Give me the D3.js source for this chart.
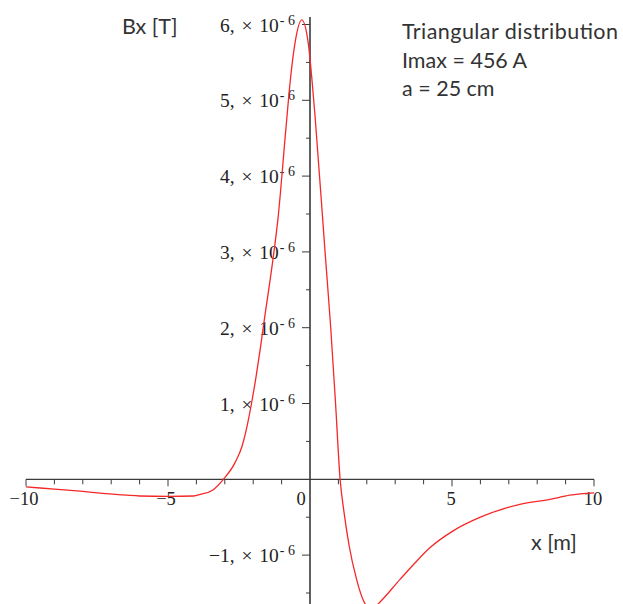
<!DOCTYPE html>
<html>
<head>
<meta charset="utf-8">
<script src="https://cdn.jsdelivr.net/npm/d3@7"></script>
<style>
  html, body { margin: 0; padding: 0; background: #fff; }
  svg { display: block; }
</style>
</head>
<body>
<div id="chart"></div>
<script>
// Bx field along x for a triangular current distribution
const xValues = [-10, -9, -8, -7.3, -6.45, -6, -5, -4.1, -3.87, -3.42, -3.05, -2.64, -2.39, -2.24, -2.06,
  -1.9, -1.74, -1.64, -1.27, -1.13, -0.85, -0.68, -0.53, -0.29, -0.06, 0.06, 0.18,
  0.53, 0.73, 0.9, 1.06, 1.2, 1.38, 1.64, 1.87, 2.17, 2.41, 3.17, 3.63, 4.23, 5.04, 6.0, 7.39, 8.45, 9.15, 10];
// Bx in units of 1e-6 T
const bxValues = [-0.10, -0.13, -0.16, -0.185, -0.21, -0.22, -0.225, -0.22, -0.20, -0.14, 0, 0.22, 0.44, 0.66, 1.0,
  1.35, 1.75, 2.02, 3.0, 3.43, 4.62, 5.31, 5.75, 6.06, 5.75, 5.31, 4.78,
  3.0, 2.0, 1.0, 0, -0.44, -0.88, -1.32, -1.59, -1.72, -1.64, -1.32, -1.13, -0.9, -0.68, -0.5, -0.33, -0.265, -0.21, -0.18];

const xMajorTicks = [-10, -5, 0, 5, 10];
const xMinorTicks = [-9, -8, -7, -6, -4, -3, -2, -1, 1, 2, 3, 4, 6, 7, 8, 9];
const yMajorTicks = [-1, 1, 2, 3, 4, 5, 6];
const yMinorTicks = [-1.5, -0.5, 0.5, 1.5, 2.5, 3.5, 4.5, 5.5];
const annotationLines = ["Triangular distribution", "Imax = 456 A", "a = 25 cm"];

const W = 623, H = 604;
const svg = d3.select("#chart").append("svg").attr("width", W).attr("height", H);

const x = d3.scaleLinear().domain([-10, 10]).range([26, 594]);
const y = d3.scaleLinear().domain([0, 6]).range([479.3, 24.5]);

const axisColor = "#3a3a3a";
const serif = "'Liberation Serif', 'Times New Roman', serif";
const sans = "Lato, 'Open Sans', sans-serif";

// x axis line and ticks
const gx = svg.append("g");
gx.append("line").attr("x1", x(-10)).attr("x2", x(10)).attr("y1", y(0)).attr("y2", y(0))
  .attr("stroke", axisColor).attr("stroke-width", 1.3);
gx.selectAll("line.minor").data(xMinorTicks).join("line").attr("class", "minor")
  .attr("x1", d => x(d)).attr("x2", d => x(d)).attr("y1", y(0)).attr("y2", y(0) + 5)
  .attr("stroke", axisColor).attr("stroke-width", 1);
gx.selectAll("line.major").data(xMajorTicks.filter(d => d !== 0)).join("line").attr("class", "major")
  .attr("x1", d => x(d)).attr("x2", d => x(d)).attr("y1", y(0)).attr("y2", y(0) + 7)
  .attr("stroke", axisColor).attr("stroke-width", 1);
gx.selectAll("text").data(xMajorTicks).join("text")
  .attr("x", d => x(d) + (d === 0 ? -9 : (d < 0 ? -2 : -1)))
  .attr("y", y(0) + 26)
  .attr("text-anchor", "middle")
  .attr("font-family", serif).attr("font-size", 18.5).attr("fill", "#222")
  .text(d => d < 0 ? "\u2212" + Math.abs(d) : String(d));

// y axis line and ticks
const gy = svg.append("g");
gy.append("line").attr("x1", x(0)).attr("x2", x(0)).attr("y1", 17).attr("y2", H)
  .attr("stroke", axisColor).attr("stroke-width", 1.6);
gy.selectAll("line.minor").data(yMinorTicks).join("line").attr("class", "minor")
  .attr("x1", x(0) - 4).attr("x2", x(0)).attr("y1", d => y(d)).attr("y2", d => y(d))
  .attr("stroke", axisColor).attr("stroke-width", 1);
gy.selectAll("line.major").data(yMajorTicks).join("line").attr("class", "major")
  .attr("x1", x(0) - 8).attr("x2", x(0)).attr("y1", d => y(d)).attr("y2", d => y(d))
  .attr("stroke", axisColor).attr("stroke-width", 1);
const yLabels = gy.selectAll("text").data(yMajorTicks).join("text")
  .attr("x", 295)
  .attr("y", d => y(d) + 7)
  .attr("text-anchor", "end")
  .attr("font-family", serif).attr("fill", "#222");
yLabels.append("tspan").attr("font-size", 19.5).attr("word-spacing", 2)
  .text(d => (d < 0 ? "\u2212" + Math.abs(d) : d) + ", \u00d7 10");
yLabels.append("tspan").attr("font-size", 14).attr("dx", 1).attr("dy", -7).text("- 6");

// axis titles
svg.append("text").attr("x", 122).attr("y", 33.5)
  .attr("font-family", sans).attr("font-size", 21.5).attr("fill", "#333")
  .text("Bx [T]");
svg.append("text").attr("x", 531).attr("y", 549.5)
  .attr("font-family", sans).attr("font-size", 21.5).attr("fill", "#333")
  .text("x [m]");

// annotation block
svg.append("g").selectAll("text").data(annotationLines).join("text")
  .attr("x", 402)
  .attr("y", (d, i) => 39 + i * 28.6)
  .attr("font-family", sans).attr("font-size", 21.5).attr("fill", "#333")
  .each(function (d, i) {
    if (i === 0) d3.select(this).attr("textLength", 216).attr("lengthAdjust", "spacing");
  })
  .text(d => d);

// field curve
const pts = xValues.map((v, i) => [v, bxValues[i]]);
const line = d3.line().x(d => x(d[0])).y(d => y(d[1])).curve(d3.curveMonotoneX);
svg.append("path").datum(pts).attr("d", line)
  .attr("fill", "none").attr("stroke", "#f52828").attr("stroke-width", 1.3);
</script>
</body>
</html>
